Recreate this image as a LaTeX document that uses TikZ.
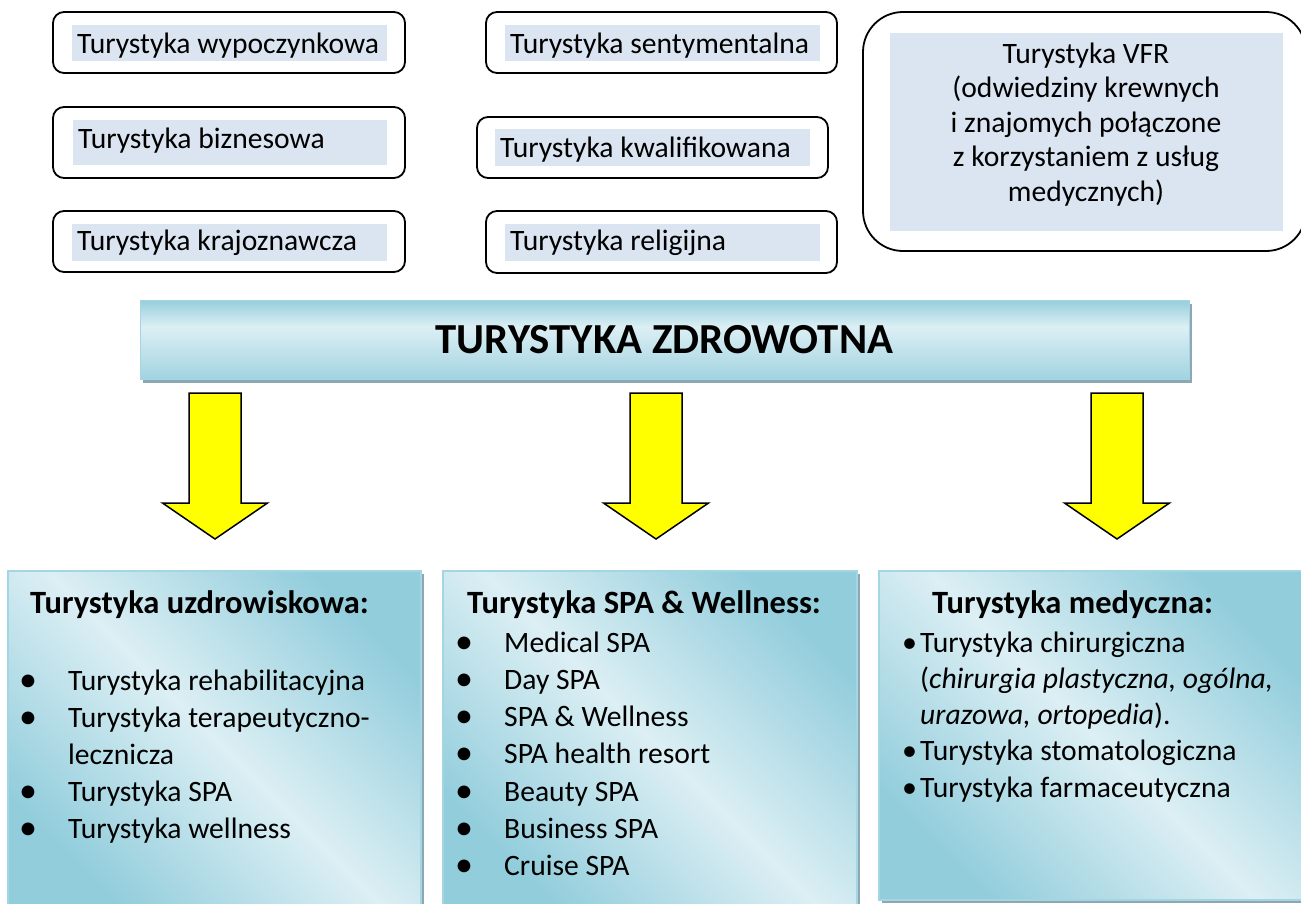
\documentclass[tikz,border=0pt]{standalone}
\usepackage{fontspec}
\setmainfont{Carlito}
\usetikzlibrary{fit}
\definecolor{hlblue}{HTML}{DBE5F1}
\definecolor{dkb}{HTML}{92CDDC}
\definecolor{ltb}{HTML}{DCEFF4}
\definecolor{bnt}{HTML}{96CEDD}
\definecolor{bnb}{HTML}{A2D3E1}
\definecolor{shadowc}{HTML}{8DA8B3}
\definecolor{bordc}{HTML}{A3D5E3}
\definecolor{arrowy}{HTML}{FFFF00}
\pgfdeclarehorizontalshading{diagblue}{100bp}{color(0bp)=(dkb); color(25bp)=(dkb); color(50bp)=(ltb); color(75bp)=(dkb); color(100bp)=(dkb)}
\pgfdeclareverticalshading{bannershade}{100bp}{color(0bp)=(bnb); color(25bp)=(bnb); color(58bp)=(ltb); color(75bp)=(bnt); color(100bp)=(bnt)}
\begin{document}
\begin{tikzpicture}[x=1pt,y=-1pt,
  topbox/.style={draw=black, line width=1.8pt, rounded corners=11pt, fill=white, inner sep=0pt},
  hlbox/.style={fill=hlblue, inner sep=0pt},
  txt/.style={anchor=base west, inner sep=0pt, font=\fontsize{29.6}{35}\selectfont},
  ctxt/.style={anchor=base, inner sep=0pt, font=\fontsize{29.6}{35}\selectfont},
  head/.style={anchor=base west, inner sep=0pt, font=\fontsize{32.5}{38}\selectfont\bfseries},
  bul/.style={anchor=base west, inner sep=0pt, font=\fontsize{36}{40}\selectfont},
  bulsmall/.style={anchor=base west, inner sep=0pt, font=\fontsize{30}{35}\selectfont},
  yarrow/.style={draw=black, line width=1.5pt, fill=arrowy, line join=miter},
  bigbox/.style={shading=diagblue, shading angle=45, draw=bordc, line width=1.2pt, inner sep=0pt},
  shadowbox/.style={fill=shadowc, inner sep=0pt}
]
\useasboundingbox (0,0) rectangle (1301,903);

% ---- top boxes ----
\node[topbox, fit={(53,12) (405,73)}] (b1) {};
\node[hlbox, fit={(72,25) (387,61)}] (h1) {};
\node[txt] (t1) at (77,53) {Turystyka wypoczynkowa};

\node[topbox, fit={(53,107) (405,178)}] (b2) {};
\node[hlbox, fit={(73,120) (387,165)}] (h2) {};
\node[txt] (t2) at (78,148) {Turystyka biznesowa};

\node[topbox, fit={(53,211) (405,272)}] (b3) {};
\node[hlbox, fit={(72,224) (387,261)}] (h3) {};
\node[txt] (t3) at (77,250) {Turystyka krajoznawcza};

\node[topbox, fit={(486,12) (837,73)}] (b4) {};
\node[hlbox, fit={(505,25) (820,61)}] (h4) {};
\node[txt] (t4) at (510,53) {Turystyka sentymentalna};

\node[topbox, fit={(477,117) (828,178)}] (b5) {};
\node[hlbox, fit={(495,129) (810,166)}] (h5) {};
\node[txt] (t5) at (500,157) {Turystyka kwalifikowana};

\node[topbox, fit={(486,211) (837,273)}] (b6) {};
\node[hlbox, fit={(505,224) (820,261)}] (h6) {};
\node[txt] (t6) at (510,250) {Turystyka religijna};

\node[topbox, rounded corners=40pt, fit={(863,12) (1306,251)}] (b7) {};
\node[hlbox, fit={(890,33) (1283,231)}] (h7) {};
\node[ctxt] (v1) at (1086,63) {Turystyka VFR};
\node[ctxt] (v2) at (1086,97.5) {(odwiedziny krewnych};
\node[ctxt] (v3) at (1086,132) {i znajomych połączone};
\node[ctxt] (v4) at (1086,166.5) {z korzystaniem z usług};
\node[ctxt] (v5) at (1086,201) {medycznych)};

% ---- banner ----
\node[shadowbox, fit={(143,304) (1192,383)}] (bsh) {};
\node[shading=bannershade, draw=bordc, line width=1pt, inner sep=0pt, fit={(140,300) (1189,379)}] (banner) {};
\node[inner sep=0pt, anchor=base, font=\fontsize{42.8}{50}\selectfont\bfseries] (btxt) at (664.5,353) {TURYSTYKA ZDROWOTNA};

% ---- arrows ----
\foreach \x in {215,656,1117}
  \draw[yarrow] ({\x-26},393) -- ({\x+26},393) -- ({\x+26},503) -- ({\x+52.5},503) -- (\x,539) -- ({\x-52.5},503) -- ({\x-26},503) -- cycle;

% ---- bottom boxes ----
\node[shadowbox, fit={(11,574) (424,909)}] (s1) {};
\node[bigbox, fit={(8,571) (421,906)}] (c1) {};
\node[shadowbox, fit={(446,574) (860,909)}] (s2) {};
\node[bigbox, fit={(443,571) (857,906)}] (c2) {};
\node[shadowbox, fit={(882,574) (1306,903)}] (s3) {};
\node[bigbox, fit={(879,571) (1306,900)}] (c3) {};

% left list
\node[head] (hd1) at (30,613) {Turystyka uzdrowiskowa:};
\node[txt] (l1) at (68,690) {Turystyka rehabilitacyjna};
\node[txt] (l2) at (68,727) {Turystyka terapeutyczno-};
\node[txt] (l3) at (68,764) {lecznicza};
\node[txt] (l4) at (68,801) {Turystyka SPA};
\node[txt] (l5) at (68,838) {Turystyka wellness};
\node[bul] (lb1) at (19,691) {•};
\node[bul] (lb2) at (19,728) {•};
\node[bul] (lb4) at (19,802) {•};
\node[bul] (lb5) at (19,839) {•};

% middle list
\node[head] (hd2) at (467,613) {Turystyka SPA \& Wellness:};
\node[txt] (m1) at (504,652) {Medical SPA};
\node[txt] (m2) at (504,689.3) {Day SPA};
\node[txt] (m3) at (504,726.6) {SPA \& Wellness};
\node[txt] (m4) at (504,763.9) {SPA health resort};
\node[txt] (m5) at (504,801.2) {Beauty SPA};
\node[txt] (m6) at (504,838.5) {Business SPA};
\node[txt] (m7) at (504,875.8) {Cruise SPA};
\foreach \i in {0,...,6}
  \node[bul] (mb\i) at (455,{653+37.3*\i}) {•};

% right list
\node[head] (hd3) at (932,613) {Turystyka medyczna:};
\node[txt] (r1) at (920,652) {Turystyka chirurgiczna};
\node[txt] (r2) at (920,688) {(\textit{chirurgia plastyczna, ogólna,}};
\node[txt] (r3) at (920,724) {\textit{urazowa, ortopedia}).};
\node[txt] (r4) at (920,760) {Turystyka stomatologiczna};
\node[txt] (r5) at (920,797) {Turystyka farmaceutyczna};
\node[bulsmall] (rb1) at (902,652) {•};
\node[bulsmall] (rb2) at (902,760) {•};
\node[bulsmall] (rb3) at (902,797) {•};
\end{tikzpicture}
\end{document}
